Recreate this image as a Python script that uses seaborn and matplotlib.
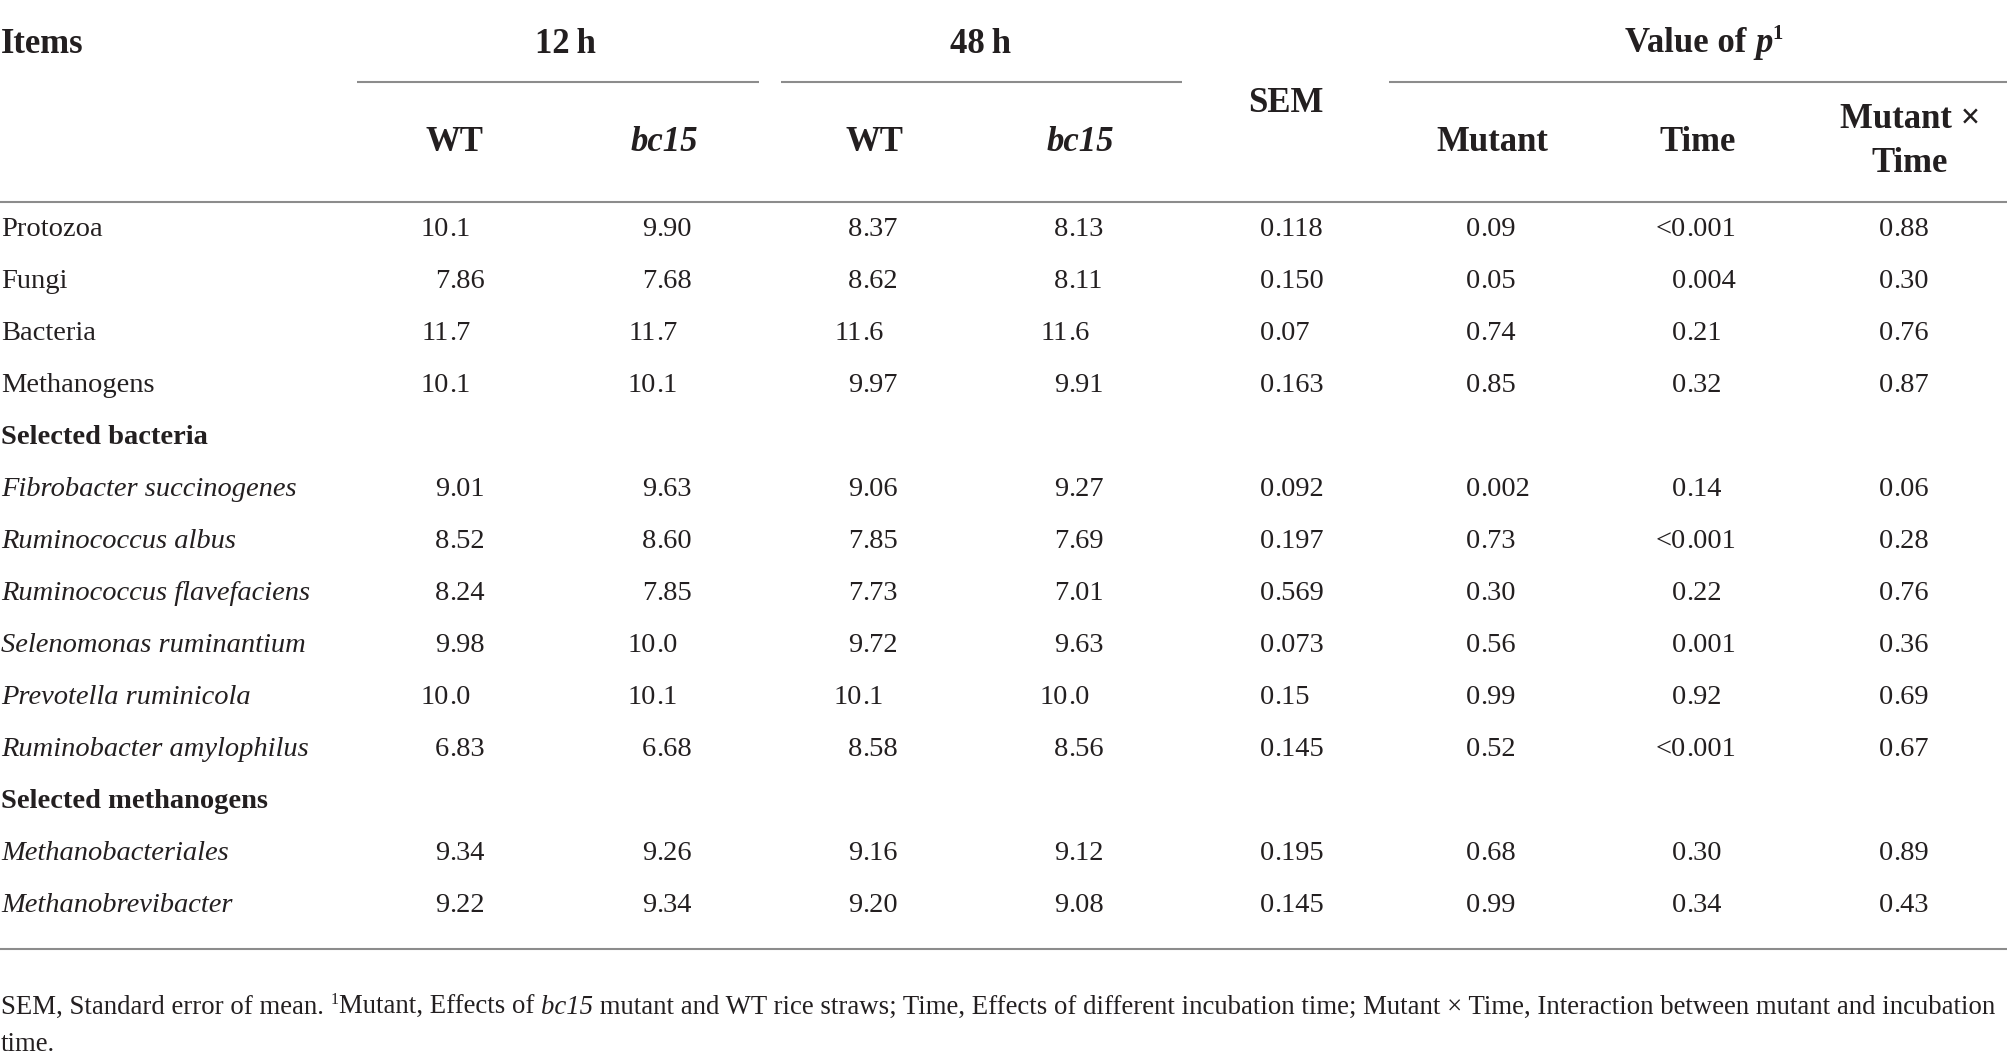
import numpy as np
import pandas as pd
import matplotlib
matplotlib.use("Agg")
import matplotlib.pyplot as plt
import seaborn as sns

# ---- table content ----
items = ["Protozoa", "Fungi", "Bacteria", "Methanogens", "Selected bacteria",
         "Fibrobacter succinogenes", "Ruminococcus albus", "Ruminococcus flavefaciens",
         "Selenomonas ruminantium", "Prevotella ruminicola", "Ruminobacter amylophilus",
         "Selected methanogens", "Methanobacteriales", "Methanobrevibacter"]
item_style = ["normal"] * 4 + ["bold"] + ["italic"] * 6 + ["bold"] + ["italic"] * 2

wt_12h = ["10.1", "7.86", "11.7", "10.1", "", "9.01", "8.52", "8.24", "9.98", "10.0", "6.83", "", "9.34", "9.22"]
bc15_12h = ["9.90", "7.68", "11.7", "10.1", "", "9.63", "8.60", "7.85", "10.0", "10.1", "6.68", "", "9.26", "9.34"]
wt_48h = ["8.37", "8.62", "11.6", "9.97", "", "9.06", "7.85", "7.73", "9.72", "10.1", "8.58", "", "9.16", "9.20"]
bc15_48h = ["8.13", "8.11", "11.6", "9.91", "", "9.27", "7.69", "7.01", "9.63", "10.0", "8.56", "", "9.12", "9.08"]
sem = ["0.118", "0.150", "0.07", "0.163", "", "0.092", "0.197", "0.569", "0.073", "0.15", "0.145", "", "0.195", "0.145"]
p_mutant = ["0.09", "0.05", "0.74", "0.85", "", "0.002", "0.73", "0.30", "0.56", "0.99", "0.52", "", "0.68", "0.99"]
p_time = ["<0.001", "0.004", "0.21", "0.32", "", "0.14", "<0.001", "0.22", "0.001", "0.92", "<0.001", "", "0.30", "0.34"]
p_inter = ["0.88", "0.30", "0.76", "0.87", "", "0.06", "0.28", "0.76", "0.36", "0.69", "0.67", "", "0.89", "0.43"]

sub_headers = ["WT", "bc15", "WT", "bc15", "SEM", "Mutant", "Time", "Mutant ×\nTime"]
footnote_line1 = [("SEM, Standard error of mean. ", "normal", False),
                  ("1", "normal", True),
                  ("Mutant, Effects of ", "normal", False),
                  ("bc15", "italic", False),
                  (" mutant and WT rice straws; Time, Effects of different incubation time; "
                   "Mutant × Time, Interaction between mutant and incubation", "normal", False)]
footnote_line2 = "time."

df = pd.DataFrame({"item": items, "style": item_style,
                   "wt_12h": wt_12h, "bc15_12h": bc15_12h,
                   "wt_48h": wt_48h, "bc15_48h": bc15_48h,
                   "sem": sem, "p_mutant": p_mutant, "p_time": p_time, "p_inter": p_inter})
value_cols = ["wt_12h", "bc15_12h", "wt_48h", "bc15_48h", "sem", "p_mutant", "p_time", "p_inter"]

# ---- style ----
sns.set_theme(style="white")
plt.rcParams["font.family"] = ["Liberation Serif", "DejaVu Serif"]
ink = "#231f20"
rule = "#8c8c8c"
body_fs = 20.5
head_fs = 25

W, H = 2008, 1064
fig = plt.figure(figsize=(W / 100, H / 100), dpi=100)
ax = fig.add_axes([0, 0, 1, 1])
ax.set_xlim(0, W)
ax.set_ylim(H, 0)
ax.axis("off")
renderer = fig.canvas.get_renderer()

# column anchors (decimal points) and header centres
dec_x = [449, 656, 862, 1068, 1274, 1480, 1686, 1893]
head_x = [454, 664, 874, 1080, 1286, 1492, 1698, 1910]
row_base = 236
row_step = 52


def runs(x, y, parts, size, weight="normal", ha="left"):
    # parts: (text, style, superscript)
    objs = []
    for txt, st, sup in parts:
        fs = size * 0.6 if sup else size
        t = ax.text(0, y, txt, fontsize=fs, fontweight=weight, fontstyle=st,
                    color=ink, ha="left", va="baseline")
        objs.append((t, sup))
    widths = [t.get_window_extent(renderer).width for t, _ in objs]
    cur = x - sum(widths) / 2 if ha == "center" else x
    for (t, sup), w in zip(objs, widths):
        t.set_x(cur)
        if sup:
            t.set_y(y - size * 100 / 72 * 0.38)
        cur += w
    return sum(widths)


# header row 1
ax.text(1, 53, "Items", fontsize=head_fs, fontweight="bold", color=ink, va="baseline")
ax.text(565, 53, "12\u2009h", fontsize=head_fs, fontweight="bold", color=ink, ha="center", va="baseline")
ax.text(981, 53, "48\u2009h", fontsize=head_fs, fontweight="bold", color=ink, ha="center", va="baseline")
runs(1704, 52, [("Value of ", "normal", False), ("p", "italic", False), ("1", "normal", True)],
     head_fs, weight="bold", ha="center")

# spanning rules
ax.hlines(82, 357, 759, color=rule, lw=1.5)
ax.hlines(82, 781, 1182, color=rule, lw=1.5)
ax.hlines(82, 1389, W, color=rule, lw=1.5)

# header row 2
for i, (hx, lab) in enumerate(zip(head_x, sub_headers)):
    st = "italic" if lab == "bc15" else "normal"
    if lab == "SEM":
        ax.text(hx, 112, lab, fontsize=head_fs, fontweight="bold", color=ink, ha="center", va="baseline")
    elif "\n" in lab:
        top, bot = lab.split("\n")
        ax.text(hx, 128, top, fontsize=head_fs, fontweight="bold", color=ink, ha="center", va="baseline")
        ax.text(hx, 172, bot, fontsize=head_fs, fontweight="bold", color=ink, ha="center", va="baseline")
    else:
        ax.text(hx, 151, lab, fontsize=head_fs, fontweight="bold", fontstyle=st, color=ink,
                ha="center", va="baseline")

ax.hlines(202, 0, W, color=rule, lw=1.5)

# body
for r, row in df.iterrows():
    y = row_base + r * row_step
    bold = row["style"] == "bold"
    ax.text(1, y, row["item"], fontsize=body_fs, color=ink, va="baseline",
            fontweight="bold" if bold else "normal",
            fontstyle="italic" if row["style"] == "italic" else "normal")
    for cx, col in zip(dec_x, value_cols):
        s = row[col]
        if not s:
            continue
        k = s.index(".")
        ax.text(cx, y, s[:k], fontsize=body_fs, color=ink, ha="right", va="baseline")
        ax.text(cx, y, s[k:], fontsize=body_fs, color=ink, ha="left", va="baseline")

ax.hlines(949, 0, W, color=rule, lw=1.5)

# footnote, sized to fill the first line
foot_fs = 18.5
w = runs(1, 1014, footnote_line1, foot_fs)
for t in list(ax.texts)[-len(footnote_line1):]:
    t.remove()
foot_fs = foot_fs * (W - 6) / w
runs(1, 1014, footnote_line1, foot_fs)
ax.text(1, 1051, footnote_line2, fontsize=foot_fs, color=ink, va="baseline")

fig.savefig("out.png", dpi=100)
